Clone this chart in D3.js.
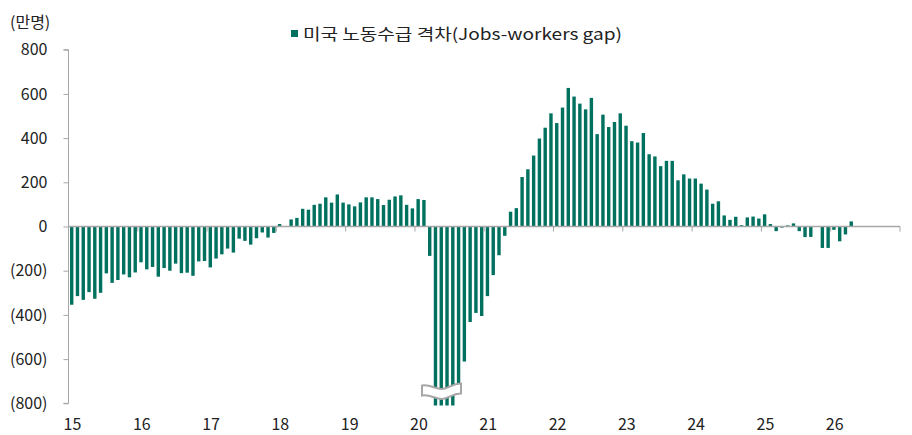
<!DOCTYPE html>
<html>
<head>
<meta charset="utf-8">
<title>Jobs-workers gap</title>
<script src="https://cdn.jsdelivr.net/npm/d3@7"></script>
<style>
body { margin:0; background:#fff; }
text { font-family:"Noto Sans CJK KR","Noto Sans",sans-serif; fill:#222; }
</style>
</head>
<body>
<script>
// monthly, Jan 2015 ~ Apr 2026 (만명)
var gap2015 = [-354,-315,-332,-297,-327,-300,-212,-255,-242,-217,-230,-208];
var gap2016 = [-162,-194,-183,-227,-188,-200,-168,-211,-209,-223,-158,-156];
var gap2017 = [-185,-145,-126,-100,-118,-55,-65,-82,-53,-27,-50,-29];
var gap2018 = [11,-2,32,39,80,76,98,103,132,108,145,108];
var gap2019 = [100,91,109,132,132,124,97,121,136,141,98,82];
var gap2020 = [124,120,-133,-1850,-1560,-1170,-960,-709,-611,-432,-391,-405];
var gap2021 = [-315,-220,-130,-42,67,83,224,259,321,398,447,512];
var gap2022 = [468,538,627,588,556,530,582,418,506,450,473,512];
var gap2023 = [456,386,380,423,327,317,273,297,297,209,236,217];
var gap2024 = [217,194,167,103,114,50,30,44,6,41,45,36];
var gap2025 = [55,11,-21,-5,5,14,-21,-48,-47,null,-97,-97];
var gap2026 = [-15,-67,-36,23];
var yearLabels = ["15","16","17","18","19","20","21","22","23","24","25","26"];
var yTicks = [800,600,400,200,0,-200,-400,-600,-800];

var values = [].concat(gap2015,gap2016,gap2017,gap2018,gap2019,gap2020,
                       gap2021,gap2022,gap2023,gap2024,gap2025,gap2026);

var width = 912, height = 435;
var svg = d3.select('body').append('svg').attr('width',width).attr('height',height);

var x = d3.scaleLinear().domain([0,144]).range([68.5,900]);
var y = d3.scaleLinear().domain([-800,800]).range([403.3,49.7]);
var barW = 3.4;
var floorY = 405.5;

// bars
svg.selectAll('rect.bar').data(values.map(function(v,i){ return {v:v,i:i}; })
  .filter(function(d){ return d.v !== null; }))
  .enter().append('rect').attr('class','bar')
  .attr('x', function(d){ return x(d.i) + 1.5; })
  .attr('width', barW)
  .attr('y', function(d){ return d.v >= 0 ? y(d.v) : y(0); })
  .attr('height', function(d){
    if (d.v >= 0) return y(0) - y(d.v);
    return Math.min(y(d.v), floorY) - y(0);
  })
  .attr('fill', '#00705f');

// y axis
var yAxis = d3.axisLeft(y).tickValues(yTicks).tickSize(5).tickPadding(16)
  .tickFormat(function(d){ return d < 0 ? '(' + (-d) + ')' : d; });
var ga = svg.append('g').attr('transform','translate(68.5,0)').call(yAxis);
ga.select('.domain').attr('stroke','#a6a6a6').attr('d','M-5,' + y(800) + 'H0V' + y(-800) + 'H-5');
ga.selectAll('.tick line').attr('stroke','#a6a6a6');
ga.selectAll('.tick text').attr('font-size',16).attr('fill','#222')
  .style('font-family','"Noto Sans CJK KR","Noto Sans",sans-serif');

// zero line with year ticks
var gx = svg.append('g').attr('transform','translate(0,' + y(0) + ')');
gx.append('line').attr('x1',x(0)).attr('x2',x(144)).attr('stroke','#a6a6a6').attr('stroke-width',1.3);
gx.selectAll('line.yt').data(d3.range(1,13)).enter().append('line').attr('class','yt')
  .attr('x1',function(d){ return x(d*12); }).attr('x2',function(d){ return x(d*12); })
  .attr('y1',0).attr('y2',5).attr('stroke','#a6a6a6');

// year labels at the bottom
svg.selectAll('text.year').data(yearLabels).enter().append('text').attr('class','year')
  .attr('x', function(d,i){ return x(i*12) + 4; })
  .attr('y', 430)
  .attr('text-anchor','middle')
  .attr('font-size',16)
  .text(function(d){ return d; });

// axis break on the 2020 bars
svg.append('path')
  .attr('d','M422,385.5 C430,384 436,389.5 442,389 C449,388.5 453,383 461,383.5 L461,393.5 C453,393 449,398.5 442,399 C436,399.5 430,394 422,395.5 Z')
  .attr('fill','#fff').attr('stroke','#a6a6a6').attr('stroke-width',2);

// unit
svg.append('text').attr('x',10).attr('y',28).attr('font-size',16).text('(만명)');

// legend
svg.append('rect').attr('x',291).attr('y',30).attr('width',7).attr('height',7).attr('fill','#00705f');
svg.append('text').attr('x',303).attr('y',40).attr('font-size',16)
  .attr('textLength',319).attr('lengthAdjust','spacingAndGlyphs')
  .text('미국 노동수급 격차(Jobs-workers gap)');
</script>
</body>
</html>
